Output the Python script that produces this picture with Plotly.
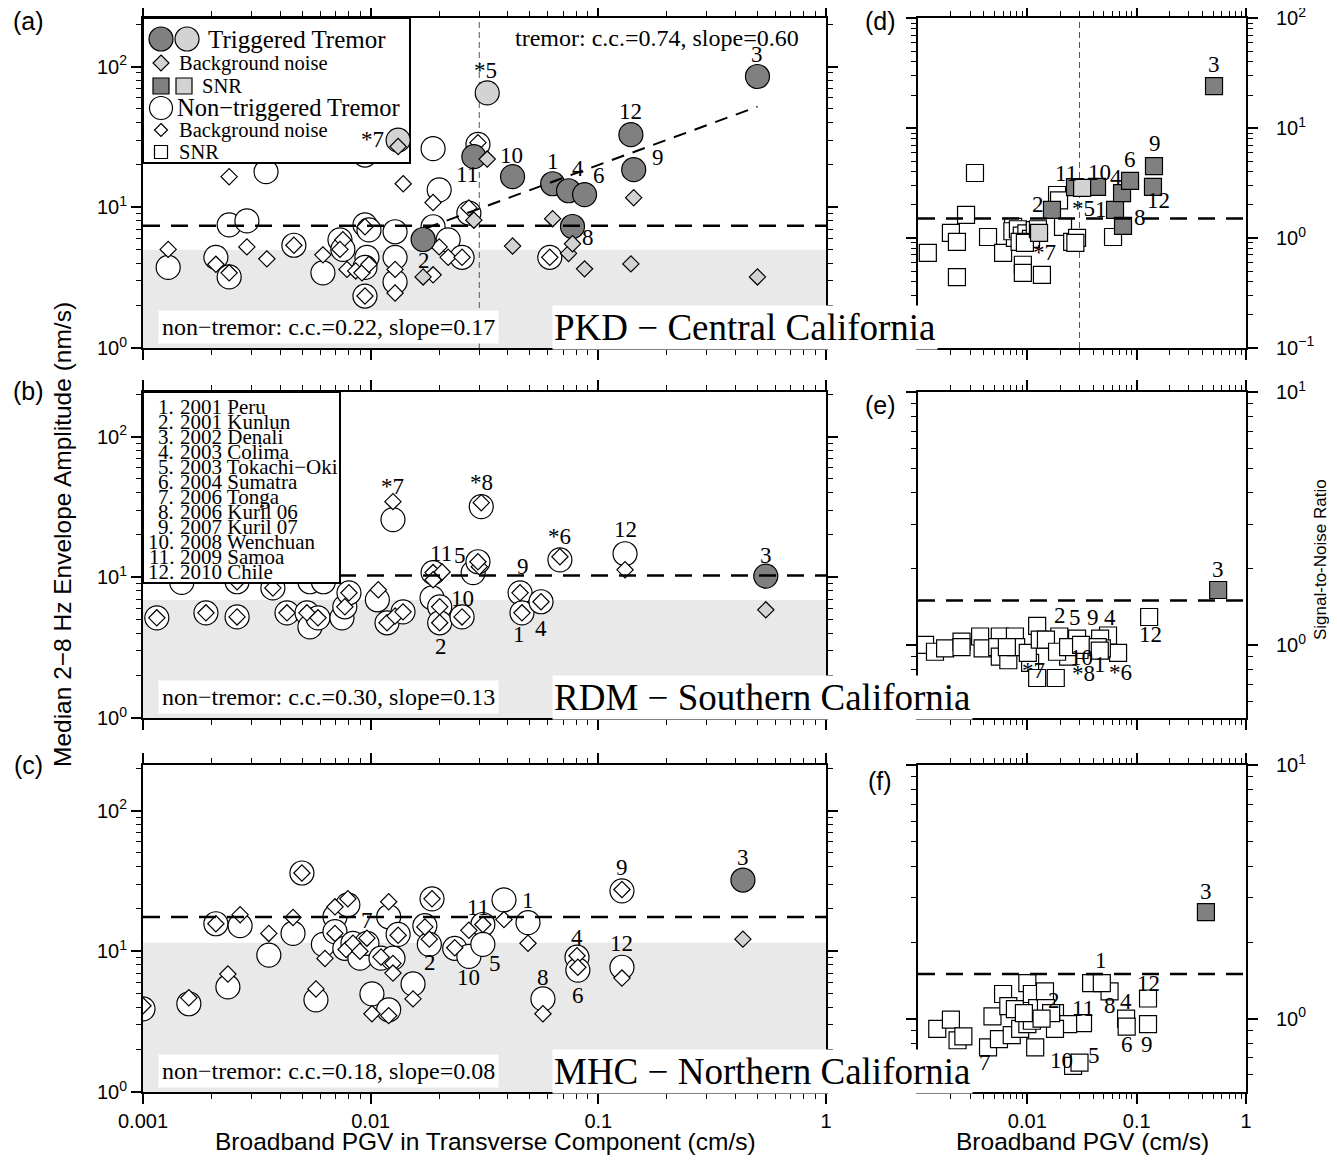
import math
import plotly.graph_objects as go

PAGE_W, PAGE_H = 1337, 1163
BODY = 8                       # default page margin of the html body
W, H = PAGE_W - BODY, PAGE_H - BODY
def PX(x): return (x - BODY) / W
def PY(y): return 1 - (y - BODY) / H

SERIF = "Liberation Serif"
SANS = "Liberation Sans"
DARK = "#808080"
LIGHT = "#d3d3d3"
SHADE = "#e9e9e9"

# ---------------- Panel (a) PKD: amplitude vs transverse PGV ----------------
A_TRIG_LABELS = ["1", "2", "3", "4", "6", "8", "9", "10", "11", "12"]
A_TRIG_PGV = [0.063, 0.017, 0.50, 0.074, 0.087, 0.077, 0.143, 0.042, 0.0284, 0.139]
A_TRIG_AMP = [14.7, 5.9, 85.0, 13.1, 12.3, 7.3, 18.5, 16.5, 22.9, 32.8]
A_TRIG_NOISE = [8.3, 3.2, 3.2, 4.7, 3.65, 5.5, 11.7, 5.3, 8.1, 3.96]
A_MARG_LABELS = ["*5", "*7"]
A_MARG_PGV = [0.0325, 0.0132]
A_MARG_AMP = [65.0, 30.0]
A_MARG_NOISE = [22.0, 27.0]
A_NT_PGV = [0.00129, 0.00209, 0.00239, 0.00239, 0.00286, 0.00347, 0.0046, 0.00617, 0.00733,
            0.00755, 0.00944, 0.00983, 0.00963, 0.00944, 0.00944, 0.00944, 0.0128, 0.0128,
            0.0128, 0.0188, 0.0200, 0.0188, 0.0219, 0.0252, 0.0270, 0.0296, 0.0612]
A_NT_AMP = [3.74, 4.41, 3.2, 7.5, 8.0, 17.9, 5.37, 3.42, 5.87, 5.02, 7.5, 6.9, 4.41, 3.74, 2.34,
            23.5, 4.41, 2.95, 6.7, 26.1, 13.3, 7.27, 5.87, 4.41, 9.1, 28.0, 4.41]
A_NT_NOISE_PGV = [0.00129, 0.00209, 0.00239, 0.00239, 0.00286, 0.0035, 0.0046, 0.00617, 0.00755,
                  0.00733, 0.00787, 0.0086, 0.00916, 0.00944, 0.00983, 0.00944, 0.0139, 0.0128,
                  0.0128, 0.0188, 0.0188, 0.0200, 0.0219, 0.0252, 0.0270, 0.0296, 0.0612]
A_NT_NOISE = [5.02, 3.93, 3.42, 16.5, 5.23, 4.30, 5.37, 4.59, 5.87, 5.02, 3.62, 3.53, 3.42, 7.27,
              3.93, 2.34, 14.7, 3.62, 2.46, 3.31, 10.8, 5.23, 4.41, 4.41, 9.9, 28.8, 4.41]
A_FIT_PGV = [0.0175, 0.50]
A_FIT_AMP = [7.1, 51.9]

# ---------------- Panel (b) RDM ----------------
B_TRIG_LABELS = ["3"]
B_TRIG_PGV = [0.544]
B_TRIG_AMP = [10.2]
B_TRIG_NOISE = [5.87]
B_NT_PGV = [0.00115, 0.00189, 0.00259, 0.00259, 0.00148, 0.00372, 0.00429, 0.00525, 0.00541,
            0.00587, 0.00541, 0.0062, 0.00748, 0.0077, 0.00803, 0.0107, 0.0118, 0.01387, 0.01253,
            0.0188, 0.0186, 0.0201, 0.0201, 0.0252, 0.0282, 0.0306, 0.0296, 0.0453, 0.0462,
            0.056, 0.0678, 0.131]
B_NT_AMP = [5.15, 5.59, 5.23, 9.3, 9.2, 8.4, 5.59, 5.59, 4.44, 5.15, 9.3, 9.3, 5.15, 6.17, 7.76,
            6.92, 4.75, 5.68, 25.7, 10.8, 7.15, 6.17, 4.75, 5.23, 10.8, 31.8, 12.9, 7.76, 5.59,
            6.7, 13.3, 14.7]
B_NT_LABELS = ["", "", "", "", "", "", "", "", "", "", "", "", "", "", "", "", "", "", "*7",
               "11", "", "10", "2", "", "5", "*8", "", "9", "1", "4", "*6", "12"]
B_NT_NOISE_PGV = [0.00115, 0.00189, 0.00259, 0.00259, 0.00372, 0.00429, 0.00525, 0.00587, 0.0077,
                  0.00803, 0.0108, 0.0118, 0.0128, 0.01387, 0.01253, 0.0188, 0.0206, 0.0188,
                  0.0201, 0.0201, 0.0252, 0.0300, 0.0306, 0.0296, 0.0453, 0.0462, 0.056, 0.0678,
                  0.131]
B_NT_NOISE = [5.15, 5.59, 5.23, 9.3, 8.4, 5.59, 5.59, 5.15, 6.17, 7.76, 8.15, 4.75, 5.3, 5.68,
              34.5, 10.8, 10.9, 9.6, 6.17, 4.75, 5.23, 11.9, 33.9, 12.9, 7.76, 5.59, 6.7, 14.0,
              11.3]

# ---------------- Panel (c) MHC ----------------
C_TRIG_LABELS = ["3"]
C_TRIG_PGV = [0.4316]
C_TRIG_AMP = [32.1]
C_TRIG_NOISE = [12.2]
C_NT_PGV = [0.001, 0.00159, 0.00236, 0.00209, 0.00267, 0.00357, 0.00456, 0.00499, 0.00575,
            0.0062, 0.00697, 0.00697, 0.00794, 0.0077, 0.00836, 0.00897, 0.00963, 0.01013,
            0.0111, 0.012, 0.012, 0.01253, 0.0132, 0.01535, 0.0173, 0.0186, 0.0181, 0.0234,
            0.027, 0.0311, 0.0311, 0.0385, 0.0491, 0.0571, 0.0806, 0.0813, 0.127, 0.127]
C_NT_AMP = [3.9, 4.24, 5.58, 15.7, 15.2, 9.4, 13.4, 36.0, 4.52, 11.2, 17.6, 13.8, 21.4, 10.5,
            11.4, 8.93, 11.4, 4.98, 8.93, 17.6, 3.84, 8.93, 13.2, 5.86, 15.2, 23.6, 11.2, 10.5,
            9.2, 15.5, 11.2, 23.2, 16.0, 4.59, 9.08, 7.35, 7.7, 26.9]
C_NT_LABELS = ["", "", "", "", "", "", "", "", "", "", "", "", "", "", "", "", "7", "", "", "",
               "", "", "", "", "", "", "2", "", "10", "11", "5", "", "1", "8", "4", "6", "12", "9"]
C_NT_NOISE_PGV = [0.001, 0.00159, 0.00236, 0.00209, 0.00267, 0.00357, 0.00456, 0.00499, 0.00575,
                  0.0063, 0.00697, 0.00697, 0.00794, 0.0078, 0.00836, 0.00897, 0.00963, 0.01013,
                  0.0111, 0.012, 0.012, 0.01253, 0.01253, 0.0132, 0.01535, 0.0173, 0.0186,
                  0.0181, 0.0234, 0.027, 0.0311, 0.0385, 0.0491, 0.0571, 0.0806, 0.0813, 0.127,
                  0.127]
C_NT_NOISE = [4.1, 4.67, 6.89, 15.7, 18.2, 13.4, 17.4, 36.0, 5.4, 8.9, 20.7, 13.4, 23.6, 10.3,
              11.4, 10.0, 12.4, 3.6, 9.1, 22.5, 3.49, 8.2, 7.0, 13.0, 4.59, 14.9, 23.6, 12.2,
              10.6, 14.1, 15.5, 16.8, 11.4, 3.6, 9.3, 7.7, 6.45, 27.5]

# ---------------- Panel (d) PKD SNR ----------------
D_TRIG_LABELS = ["1", "2", "3", "4", "6", "8", "9", "10", "11", "12"]
D_TRIG_PGV = [0.0634, 0.0168, 0.51, 0.0735, 0.087, 0.075, 0.144, 0.0434, 0.0273, 0.141]
D_TRIG_SNR = [1.8, 1.8, 24.1, 2.56, 3.3, 1.29, 4.5, 2.91, 2.9, 2.91]
D_MARG_LABELS = ["*5", "*7"]
D_MARG_PGV = [0.0317, 0.0128]
D_MARG_SNR = [2.85, 1.11]
D_NT_PGV = [0.00123, 0.002, 0.00227, 0.00227, 0.00275, 0.00332, 0.00437, 0.006, 0.0074, 0.0077,
            0.0091, 0.0091, 0.0136, 0.0187, 0.0195, 0.0212, 0.0257, 0.0285, 0.0275, 0.0608,
            0.0073, 0.0082, 0.0089, 0.0098, 0.0108, 0.0117, 0.0085, 0.0095, 0.0125]
D_NT_SNR = [0.73, 1.11, 0.92, 0.44, 1.62, 3.9, 1.02, 0.73, 1.26, 1.0, 0.57, 0.48, 0.46, 2.46,
            2.2, 1.26, 0.92, 1.0, 0.9, 1.02, 1.15, 1.2, 1.05, 1.1, 0.98, 1.18, 0.92, 0.9, 1.2]

# ---------------- Panel (e) RDM SNR ----------------
E_TRIG_LABELS = ["3"]
E_TRIG_PGV = [0.556]
E_TRIG_SNR = [1.65]
E_NT_PGV = [0.13, 0.0547, 0.0463, 0.0676, 0.048, 0.0285, 0.0196, 0.030, 0.0236, 0.0106,
            0.0182, 0.0123, 0.0123, 0.00116, 0.00143, 0.00177, 0.0025, 0.0025, 0.0037, 0.0039,
            0.0056, 0.0053, 0.0056, 0.0067, 0.0077, 0.0079, 0.0065, 0.0101, 0.013, 0.0148,
            0.0187, 0.0236, 0.031, 0.044, 0.046]
E_NT_SNR = [1.29, 1.09, 1.06, 0.93, 0.97, 1.06, 1.08, 0.955, 0.9, 0.85,
            0.74, 0.74, 1.19, 1.0, 0.94, 0.97, 1.03, 0.98, 1.08, 0.97, 1.08, 0.98, 0.9, 0.87,
            1.08, 0.98, 0.98, 0.93, 1.05, 1.05, 0.94, 0.98, 1.0, 0.98, 0.95]
E_NT_LABELS = ["12", "4", "9", "*6", "1", "5", "2", "10", "*8", "*7"] + [""] * 25

# ---------------- Panel (f) MHC SNR ----------------
F_TRIG_LABELS = ["3"]
F_TRIG_PGV = [0.43]
F_TRIG_SNR = [2.63]
F_NT_PGV = [0.0383, 0.0565, 0.127, 0.08, 0.081, 0.127, 0.0323, 0.0179, 0.0262, 0.030, 0.00437,
            0.048, 0.0236, 0.0179, 0.0015, 0.002, 0.0023, 0.0026, 0.0048, 0.0055, 0.006, 0.0067,
            0.0077, 0.0072, 0.0086, 0.01, 0.011, 0.0123, 0.0118, 0.0145, 0.0148, 0.01, 0.011,
            0.0093, 0.0165, 0.0135]
F_NT_SNR = [1.38, 1.28, 1.2, 1.0, 0.93, 0.95, 0.96, 1.05, 0.65, 0.67, 0.77,
            1.38, 0.95, 0.91, 0.91, 0.99, 0.82, 0.85, 1.02, 0.83, 1.25, 1.12, 1.09, 0.86, 0.91,
            1.38, 1.25, 1.1, 0.77, 1.28, 1.1, 0.95, 0.98, 1.05, 1.05, 1.0]
F_NT_LABELS = ["1", "8", "12", "4", "6", "9", "11", "2", "10", "5", "7"] + [""] * 25

# thresholds / statistics
AMP_THRESH = [7.4, 10.3, 17.5]
SHADE_TOP = [5.0, 6.9, 11.5]
SNR_THRESH = [1.5, 1.5, 1.5]
PGV_CUT = 0.03
STATIONS = ["PKD − Central California", "RDM − Southern California", "MHC − Northern California"]
NONTREMOR_TXT = ["non−tremor: c.c.=0.22, slope=0.17", "non−tremor: c.c.=0.30, slope=0.13",
                 "non−tremor: c.c.=0.18, slope=0.08"]
TREMOR_TXT = "tremor: c.c.=0.74, slope=0.60"
EVENTS = ["2001 Peru", "2001 Kunlun", "2002 Denali", "2003 Colima", "2003 Tokachi−Oki",
          "2004 Sumatra", "2006 Tonga", "2006 Kuril 06", "2007 Kuril 07", "2008 Wenchuan",
          "2009 Samoa", "2010 Chile"]

# ---------------- label offsets (pixels) ----------------
OFF_A = {"1": (0, 22), "2": (1, -21), "3": (0, 22), "4": (9, 22), "6": (14, 19), "8": (16, -11),
         "9": (24, 12), "10": (-1, 21), "11": (-7, -18), "12": (0, 23), "*5": (-2, 22),
         "*7": (-26, 1)}
OFF_B = {"*7": (0, 33), "*8": (0, 24), "11": (8, 19), "5": (-13, 17), "9": (3, 26), "10": (23, 8),
         "2": (1, -24), "1": (-3, -22), "4": (0, -27), "*6": (0, 23), "12": (0, 24), "3": (0, 21)}
OFF_C = {"3": (0, 23), "9": (0, 23), "1": (0, 22), "4": (0, 20), "6": (0, -25), "12": (0, 24),
         "8": (0, 21), "5": (12, -19), "11": (-5, 17), "10": (0, -21), "2": (1, -18), "7": (0, 23)}
OFF_D = {"3": (0, 22), "9": (1, 23), "12": (6, -14), "6": (0, 21), "4": (-6, 16), "1": (-14, 0),
         "8": (17, 8), "10": (2, 14), "11": (-9, 14), "2": (-14, 5), "*5": (1, -21),
         "*7": (5, -20)}
OFF_E = {"3": (0, 21), "12": (1, -17), "4": (2, 18), "9": (-7, 21), "5": (-2, 21), "2": (1, 21),
         "*6": (2, -20), "1": (-2, -16), "10": (2, -7), "*8": (15, -17), "*7": (3, -8)}
OFF_F = {"3": (0, 21), "1": (10, 23), "8": (0, -14), "12": (0, 15), "4": (0, 17), "6": (0, -18),
         "9": (-1, -20), "11": (0, 15), "2": (-1, 13), "10": (-12, 5), "5": (14, 7),
         "7": (-3, -15)}
LABEL_SIZE = 23

# ---------------- geometry (page pixels) ----------------
LEFT = (143, 826)
RIGHT = (918, 1246)
ROWS = [(18, 348), (392, 718), (765, 1092)]
LEFT_YMAX = [2.345, 2.317, 2.324]
RIGHT_YRANGE = [(-1.002, 2.002), (-0.289, 1.001), (-0.29, 1.001)]
LEGEND_A_BOX = (143, 18, 410, 163)


def px_to_left_data(px_x, px_y, row):
    """convert page pixels to data values of a left panel (for decorations)"""
    t, b = ROWS[row]
    lx = -3 + 3 * (px_x - LEFT[0]) / (LEFT[1] - LEFT[0])
    ly = LEFT_YMAX[row] * (b - px_y) / (b - t)
    return 10 ** lx, 10 ** ly


fig = go.Figure()
ann = []
shapes = []


def markers(xs, ys, xa, ya, symbol, size, fill, lw=1.2):
    return go.Scatter(x=xs, y=ys, xaxis=xa, yaxis=ya, mode="markers", hoverinfo="skip",
                      showlegend=False,
                      marker=dict(symbol=symbol, size=size, color=fill,
                                  line=dict(color="black", width=lw)))


def line(xs, ys, xa, ya, dash, width=2.5, color="black"):
    return go.Scatter(x=xs, y=ys, xaxis=xa, yaxis=ya, mode="lines", hoverinfo="skip",
                      showlegend=False, line=dict(color=color, width=width, dash=dash))


def labels(xs, ys, labs, offs, xr, yr):
    for x, y, lab in zip(xs, ys, labs):
        if not lab:
            continue
        dx, dy = offs.get(lab, (0, 20))
        ann.append(dict(x=math.log10(x), y=math.log10(y), xref=xr, yref=yr, text=lab,
                        showarrow=False, xshift=dx, yshift=dy,
                        font=dict(family=SERIF, size=LABEL_SIZE, color="black")))


CIRC = 24
DIAM = 12.5
SQ = 17

# ---- left panels ----
left_sets = [
    dict(trig=(A_TRIG_PGV, A_TRIG_AMP, A_TRIG_NOISE, A_TRIG_LABELS),
         marg=(A_MARG_PGV, A_MARG_AMP, A_MARG_NOISE, A_MARG_LABELS),
         nt=(A_NT_PGV, A_NT_AMP, None), ntn=(A_NT_NOISE_PGV, A_NT_NOISE), off=OFF_A),
    dict(trig=(B_TRIG_PGV, B_TRIG_AMP, B_TRIG_NOISE, B_TRIG_LABELS), marg=None,
         nt=(B_NT_PGV, B_NT_AMP, B_NT_LABELS), ntn=(B_NT_NOISE_PGV, B_NT_NOISE), off=OFF_B),
    dict(trig=(C_TRIG_PGV, C_TRIG_AMP, C_TRIG_NOISE, C_TRIG_LABELS), marg=None,
         nt=(C_NT_PGV, C_NT_AMP, C_NT_LABELS), ntn=(C_NT_NOISE_PGV, C_NT_NOISE), off=OFF_C),
]
for i, s in enumerate(left_sets):
    n = 1 + i
    xa = "x" if n == 1 else "x%d" % n
    ya = "y" if n == 1 else "y%d" % n
    ymax = 10 ** LEFT_YMAX[i]
    fig.add_trace(go.Scatter(x=[1e-3, 1, 1, 1e-3], y=[1, 1, SHADE_TOP[i], SHADE_TOP[i]],
                             xaxis=xa, yaxis=ya, mode="lines", fill="toself", fillcolor=SHADE,
                             line=dict(width=0), hoverinfo="skip", showlegend=False))
    if i == 0:
        fig.add_trace(line([PGV_CUT, PGV_CUT], [1, ymax], xa, ya, "6px,4px", 1, "#555555"))
    fig.add_trace(markers(s["nt"][0], s["nt"][1], xa, ya, "circle", CIRC, "white"))
    fig.add_trace(markers(s["ntn"][0], s["ntn"][1], xa, ya, "diamond", DIAM, "white"))
    if i == 0:
        x0, y0 = px_to_left_data(LEGEND_A_BOX[0], LEGEND_A_BOX[3], 0)
        x1, y1 = px_to_left_data(LEGEND_A_BOX[2], LEGEND_A_BOX[1], 0)
        fig.add_trace(go.Scatter(x=[x0, x1, x1, x0, x0], y=[y0, y0, y1, y1, y0], xaxis=xa,
                                 yaxis=ya, mode="lines", fill="toself", fillcolor="white",
                                 line=dict(color="black", width=2), hoverinfo="skip",
                                 showlegend=False))
    tx, ty, tn, tl = s["trig"]
    fig.add_trace(markers(tx, ty, xa, ya, "circle", CIRC, DARK))
    if s["marg"]:
        mx, my, mn, ml = s["marg"]
        fig.add_trace(markers(mx, my, xa, ya, "circle", CIRC, LIGHT))
        fig.add_trace(markers(mx, mn, xa, ya, "diamond", DIAM, LIGHT))
        labels(mx, my, ml, s["off"], xa, ya)
    fig.add_trace(markers(tx, tn, xa, ya, "diamond", DIAM, LIGHT))
    fig.add_trace(line([1e-3, 1], [AMP_THRESH[i], AMP_THRESH[i]], xa, ya, "17px,11px", 2.5))
    if i == 0:
        fig.add_trace(line(A_FIT_PGV, A_FIT_AMP, xa, ya, "13px,9px", 2))
    labels(tx, ty, tl, s["off"], xa, ya)
    if s["nt"][2]:
        labels(s["nt"][0], s["nt"][1], s["nt"][2], s["off"], xa, ya)

# ---- right panels ----
right_sets = [
    dict(trig=(D_TRIG_PGV, D_TRIG_SNR, D_TRIG_LABELS), marg=(D_MARG_PGV, D_MARG_SNR, D_MARG_LABELS),
         nt=(D_NT_PGV, D_NT_SNR, None), off=OFF_D),
    dict(trig=(E_TRIG_PGV, E_TRIG_SNR, E_TRIG_LABELS), marg=None,
         nt=(E_NT_PGV, E_NT_SNR, E_NT_LABELS), off=OFF_E),
    dict(trig=(F_TRIG_PGV, F_TRIG_SNR, F_TRIG_LABELS), marg=None,
         nt=(F_NT_PGV, F_NT_SNR, F_NT_LABELS), off=OFF_F),
]
for i, s in enumerate(right_sets):
    n = 4 + i
    xa, ya = "x%d" % n, "y%d" % n
    lo, hi = RIGHT_YRANGE[i]
    if i == 0:
        fig.add_trace(line([PGV_CUT, PGV_CUT], [10 ** lo, 10 ** hi], xa, ya, "6px,4px", 1,
                           "#555555"))
    fig.add_trace(markers(s["nt"][0], s["nt"][1], xa, ya, "square", SQ, "white"))
    tx, ty, tl = s["trig"]
    fig.add_trace(markers(tx, ty, xa, ya, "square", SQ, DARK))
    if s["marg"]:
        mx, my, ml = s["marg"]
        fig.add_trace(markers(mx, my, xa, ya, "square", SQ, LIGHT))
        labels(mx, my, ml, s["off"], xa, ya)
    fig.add_trace(line([1e-3, 1], [SNR_THRESH[i], SNR_THRESH[i]], xa, ya, "17px,11px", 2.5))
    labels(tx, ty, tl, s["off"], xa, ya)
    if s["nt"][2]:
        labels(s["nt"][0], s["nt"][1], s["nt"][2], s["off"], xa, ya)


# ---------------- axes ----------------
def minor_vals(e0, e1):
    return [m * 10.0 ** e for e in range(e0, e1 + 1) for m in range(2, 10)]


def sup(e):
    return "10<sup>%s</sup>" % ("−1" if e < 0 else str(e))


def ax(domain, rng, tickvals, ticktext, minor, anchor, show=True, side=None):
    d = dict(type="log", domain=domain, range=rng, anchor=anchor, showline=True,
             linecolor="black", linewidth=2, mirror="allticks", ticks="outside", ticklen=10,
             tickwidth=1.5, tickcolor="black", showgrid=False, zeroline=False,
             automargin=False, ticklabeloverflow="allow",
             tickmode="array", tickvals=tickvals, ticktext=ticktext, showticklabels=show,
             tickfont=dict(family=SANS, size=20, color="black"),
             minor=dict(ticks="outside", ticklen=5, tickwidth=1, tickcolor="black",
                        tickmode="array", tickvals=minor, showgrid=False))
    if side:
        d["side"] = side
        d["ticklabelstandoff"] = 14
    return d


layout = {}
lx = [PX(LEFT[0]), PX(LEFT[1])]
rx = [PX(RIGHT[0]), PX(RIGHT[1])]
for i, (t, b) in enumerate(ROWS):
    yd = [PY(b), PY(t)]
    n = i + 1
    kx = "xaxis" if n == 1 else "xaxis%d" % n
    ky = "yaxis" if n == 1 else "yaxis%d" % n
    layout[kx] = ax(lx, [-3, 0], [0.001, 0.01, 0.1, 1], ["0.001", "0.01", "0.1", "1"],
                    minor_vals(-3, -1), "y" if n == 1 else "y%d" % n, show=(i == 2))
    layout[ky] = ax(yd, [0, LEFT_YMAX[i]], [1, 10, 100], [sup(0), sup(1), sup(2)],
                    minor_vals(0, 2), "x" if n == 1 else "x%d" % n)
    m = i + 4
    layout["xaxis%d" % m] = ax(rx, [-3, 0], [0.01, 0.1, 1], ["0.01", "0.1", "1"],
                               minor_vals(-3, -1), "y%d" % m, show=(i == 2))
    lo, hi = RIGHT_YRANGE[i]
    if i == 0:
        tv, tt, mv = [0.1, 1, 10, 100], [sup(-1), sup(0), sup(1), sup(2)], minor_vals(-1, 1)
    else:
        tv, tt, mv = [1, 10], [sup(0), sup(1)], minor_vals(-1, 0)
    layout["yaxis%d" % m] = ax(yd, [lo, hi], tv, tt, mv, "x%d" % m, side="right")


# ---------------- text / decorations ----------------
def txt(x, y, s, size, family=SERIF, xanchor="center", yanchor="middle", bg=None, angle=0,
        pad=1):
    d = dict(x=PX(x), y=PY(y), xref="paper", yref="paper", text=s, showarrow=False,
             xanchor=xanchor, yanchor=yanchor, textangle=angle, borderpad=pad,
             font=dict(family=family, size=size, color="black"))
    if bg:
        d["bgcolor"] = bg
    ann.append(d)


for i, (t, b) in enumerate(ROWS):
    txt(158, b - 21, NONTREMOR_TXT[i], 24, xanchor="left", bg="white", pad=3)
    txt(552, b - 21, STATIONS[i], 37, xanchor="left", bg="white", pad=1)
txt(657, 38, TREMOR_TXT, 24)

for lab, x, y in [("(a)", 28, 21), ("(b)", 28, 391), ("(c)", 28, 765),
                  ("(d)", 880, 21), ("(e)", 880, 405), ("(f)", 880, 781)]:
    txt(x, y, lab, 25, family=SANS)

txt(486, 1141, "Broadband PGV in Transverse Component (cm/s)", 24.5, family=SANS)
txt(1082, 1141, "Broadband PGV (cm/s)", 24.5, family=SANS)
txt(62, 535, "Median 2−8 Hz Envelope Amplitude (nm/s)", 24.5, family=SANS, angle=-90)
txt(1321, 560, "Signal-to-Noise Ratio", 17, family=SANS, angle=-90)


def rect(x0, y0, x1, y1, fill, lw=1.2):
    shapes.append(dict(type="rect", xref="paper", yref="paper", x0=PX(x0), x1=PX(x1),
                       y0=PY(y1), y1=PY(y0), fillcolor=fill, layer="above",
                       line=dict(color="black", width=lw)))


def circ(cx, cy, r, fill):
    shapes.append(dict(type="circle", xref="paper", yref="paper", x0=PX(cx - r), x1=PX(cx + r),
                       y0=PY(cy + r), y1=PY(cy - r), fillcolor=fill, layer="above",
                       line=dict(color="black", width=1.2)))


def diamond(cx, cy, h, fill):
    p = "M %f,%f L %f,%f L %f,%f L %f,%f Z" % (PX(cx), PY(cy - h), PX(cx + h), PY(cy),
                                                PX(cx), PY(cy + h), PX(cx - h), PY(cy))
    shapes.append(dict(type="path", xref="paper", yref="paper", path=p, fillcolor=fill,
                       layer="above", line=dict(color="black", width=1.2)))


# legend (a) symbols (its box is a trace above)
circ(161, 39, 12, DARK)
circ(187, 39, 12, LIGHT)
txt(206, 39, "Triggered Tremor", 25, xanchor="left")
diamond(161, 63, 8, LIGHT)
txt(177, 63, "Background noise", 20.5, xanchor="left")
rect(153, 78, 169, 94, DARK)
rect(176, 78, 192, 94, LIGHT)
txt(200, 86, "SNR", 20.5, xanchor="left")
circ(161, 108, 11.5, "white")
txt(175, 108, "Non−triggered Tremor", 24.5, xanchor="left")
diamond(161, 130, 6.5, "white")
txt(177, 130, "Background noise", 20.5, xanchor="left")
rect(154.5, 145.5, 167.5, 158.5, "white")
txt(177, 152, "SNR", 20.5, xanchor="left")

# legend (b)
rect(143, 392, 340, 583, "white", 2)
for k, ev in enumerate(EVENTS):
    yy = 407 + k * 15.0
    txt(176, yy, "%d." % (k + 1), 21, xanchor="right")
    txt(178, yy, ev, 21, xanchor="left")

layout.update(dict(template="none", width=W, height=H,
                   margin=dict(l=0, r=0, t=0, b=0, pad=0, autoexpand=False),
                   paper_bgcolor="white", plot_bgcolor="white", showlegend=False,
                   annotations=ann, shapes=shapes))
fig.update_layout(**layout)
fig.write_html("out.html")
